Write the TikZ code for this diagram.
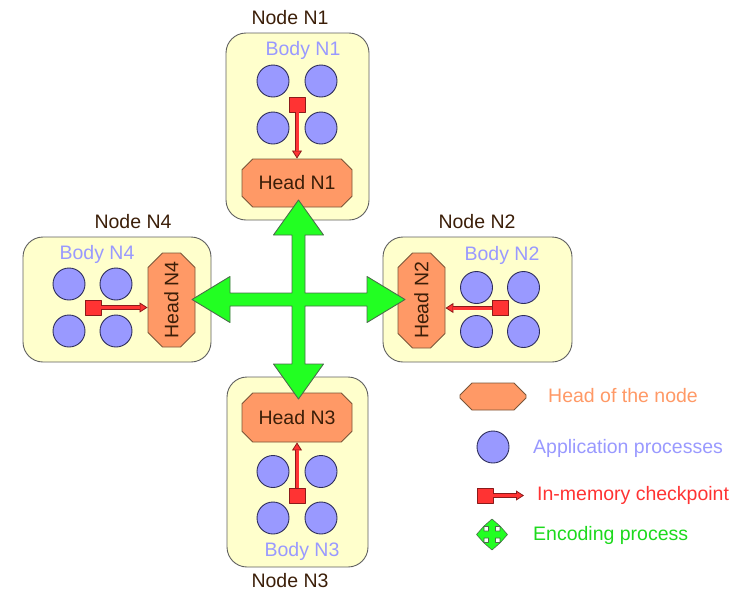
\documentclass[tikz,border=0pt]{standalone}
\usepackage{fontspec}
\setmainfont{Liberation Sans}
\usepackage{graphicx}
\usepackage{tikz}
\usetikzlibrary{arrows.meta,shapes.misc}
\usepackage{xcolor}
\definecolor{boxfill}{HTML}{FFFFCC}
\definecolor{boxline}{HTML}{5F5F5F}
\definecolor{headfill}{HTML}{FF9966}
\definecolor{headline}{HTML}{7A5538}
\definecolor{procfill}{HTML}{9999FF}
\definecolor{procline}{HTML}{2E2E5C}
\definecolor{ckfill}{HTML}{FF3333}
\definecolor{ckline}{HTML}{8B1A1A}
\definecolor{encfill}{HTML}{22FF22}
\definecolor{encline}{HTML}{4A6E4A}
\definecolor{darktext}{HTML}{3B1E08}

\begin{document}
\begin{tikzpicture}[x=1pt,y=-1pt,font=\fontsize{19.5}{23}\selectfont,line join=round,
  nodebox/.style={draw=boxline,fill=boxfill,rounded corners=20pt,line width=0.9pt,inner sep=0pt},
  headbox/.style={chamfered rectangle,chamfered rectangle xsep=11pt,draw=headline,fill=headfill,line width=0.9pt,inner sep=0pt,text=darktext},
  proc/.style={circle,draw=procline,fill=procfill,minimum size=32pt,inner sep=0pt,line width=0.9pt},
  ckpt/.style={draw=ckline,fill=ckfill,minimum width=16pt,minimum height=15pt,inner sep=0pt,line width=0.8pt},
  ckout/.style={draw=ckline,line width=4.6pt,-{Triangle[length=8pt,width=10pt,line width=0.8pt,fill=ckfill]}},
  ckin/.style={draw=ckfill,line width=3pt,shorten >=7.5pt},
  enc/.style={draw=encline,fill=encfill,line width=0.9pt},
  title/.style={text=darktext,anchor=base,inner sep=0pt},
  body/.style={text=procfill,anchor=base,inner sep=0pt}]
\useasboundingbox (0,0) rectangle (747,590);

% the four nodes
\node[nodebox,minimum width=143pt,minimum height=187pt] (box1) at (297.5,126.5) {};
\node[nodebox,minimum width=189pt,minimum height=125pt] (box2) at (477.5,299.5) {};
\node[nodebox,minimum width=141pt,minimum height=190pt] (box3) at (297.5,472) {};
\node[nodebox,minimum width=188pt,minimum height=125pt] (box4) at (117,299.5) {};

\node[title] (name1) at (290,24) {Node N1};
\node[title] (name2) at (477,228) {Node N2};
\node[title] (name3) at (290,587) {Node N3};
\node[title] (name4) at (133,228) {Node N4};
\node[body] (body1) at (303,55) {Body N1};
\node[body] (body2) at (502,260) {Body N2};
\node[body] (body3) at (302,556) {Body N3};
\node[body] (body4) at (97,259) {Body N4};

% heads
\node[headbox,minimum width=110pt,minimum height=48pt] (head1) at (297,183) {Head N1};
\node[headbox,minimum width=47pt,minimum height=95pt] (head2) at (421.5,300.5) {\rotatebox{90}{Head N2}};
\node[headbox,minimum width=110pt,minimum height=49pt] (head3) at (297,417.5) {Head N3};
\node[headbox,minimum width=47pt,minimum height=94pt] (head4) at (171.5,300) {\rotatebox{90}{Head N4}};

% application processes
\node[proc] (p11) at (273,81) {};
\node[proc] (p12) at (321,81) {};
\node[proc] (p13) at (273,128) {};
\node[proc] (p14) at (321,128) {};
\node[proc] (p21) at (476.5,287.5) {};
\node[proc] (p22) at (523.5,287.5) {};
\node[proc] (p23) at (476.5,331.5) {};
\node[proc] (p24) at (523.5,331.5) {};
\node[proc] (p31) at (273,471.5) {};
\node[proc] (p32) at (321,471.5) {};
\node[proc] (p33) at (273,518) {};
\node[proc] (p34) at (321,518) {};
\node[proc] (p41) at (69,284) {};
\node[proc] (p42) at (116,284) {};
\node[proc] (p43) at (69,331) {};
\node[proc] (p44) at (116,331) {};

% in-memory checkpoints
\node[ckpt] (ck1) at (297,104.5) {};
\node[ckpt] (ck2) at (500.5,308) {};
\node[ckpt] (ck3) at (297,495.5) {};
\node[ckpt] (ck4) at (93,307.5) {};
\draw[ckout] (ck1.south) -- (ck1.south |- head1.north);
\draw[ckin] (ck1.south) -- (ck1.south |- head1.north);
\draw[ckout] (ck2.west) -- (ck2.west -| head2.east);
\draw[ckin] (ck2.west) -- (ck2.west -| head2.east);
\draw[ckout] (ck3.north) -- (ck3.north |- head3.south);
\draw[ckin] (ck3.north) -- (ck3.north |- head3.south);
\draw[ckout] (ck4.east) -- (ck4.east -| head4.west);
\draw[ckin] (ck4.east) -- (ck4.east -| head4.west);

% encoding process
\coordinate (hub) at (298.5,299.5);
\draw[enc,shift={(hub)}] (6.5,-6.5) -- (6.5,-64.5) -- (25,-64.5) -- (0,-99.5) -- (-25,-64.5) -- (-6.5,-64.5)
  -- (-6.5,-6.5) -- (-68.5,-6.5) -- (-68.5,-23) -- (-106.5,0) -- (-68.5,23) -- (-68.5,6.5)
  -- (-6.5,6.5) -- (-6.5,64.5) -- (-25,64.5) -- (0,99.5) -- (25,64.5) -- (6.5,64.5)
  -- (6.5,6.5) -- (68.5,6.5) -- (68.5,23) -- (106.5,0) -- (68.5,-23) -- (68.5,-6.5) -- cycle;

% legend
\node[headbox,minimum width=66pt,minimum height=27pt,chamfered rectangle sep=6pt] (leghead) at (493,396.5) {\phantom{Head}};
\node[proc] (legproc) at (493,447) {};
\node[ckpt] (legck) at (485,495.5) {};
\coordinate (legtip) at (524,495.5);
\draw[ckout] (legck.east) -- (legtip);
\draw[ckin] (legck.east) -- (legtip);
\coordinate (legenc) at (492,534.5);
\draw[enc,line width=0.6pt,shift={(legenc)}] (3.5,-3.5) -- (3.5,-8) -- (8.5,-8) -- (0,-15.5) -- (-8.5,-8) -- (-3.5,-8)
  -- (-3.5,-3.5) -- (-8,-3.5) -- (-8,-8.5) -- (-15.5,0) -- (-8,8.5) -- (-8,3.5)
  -- (-3.5,3.5) -- (-3.5,8) -- (-8.5,8) -- (0,15.5) -- (8.5,8) -- (3.5,8)
  -- (3.5,3.5) -- (8,3.5) -- (8,8.5) -- (15.5,0) -- (8,-8.5) -- (8,-3.5) -- cycle;
\node[anchor=base west,inner sep=0pt,text=headfill] (leghtxt) at (548,402) {Head of the node};
\node[anchor=base west,inner sep=0pt,text=procfill] (legptxt) at (533,453) {Application processes};
\node[anchor=base west,inner sep=0pt,text=ckfill] (legctxt) at (537,500) {In-memory checkpoint};
\node[anchor=base west,inner sep=0pt,text=encfill!85!black] (legetxt) at (533,540) {Encoding process};
\end{tikzpicture}
\end{document}
